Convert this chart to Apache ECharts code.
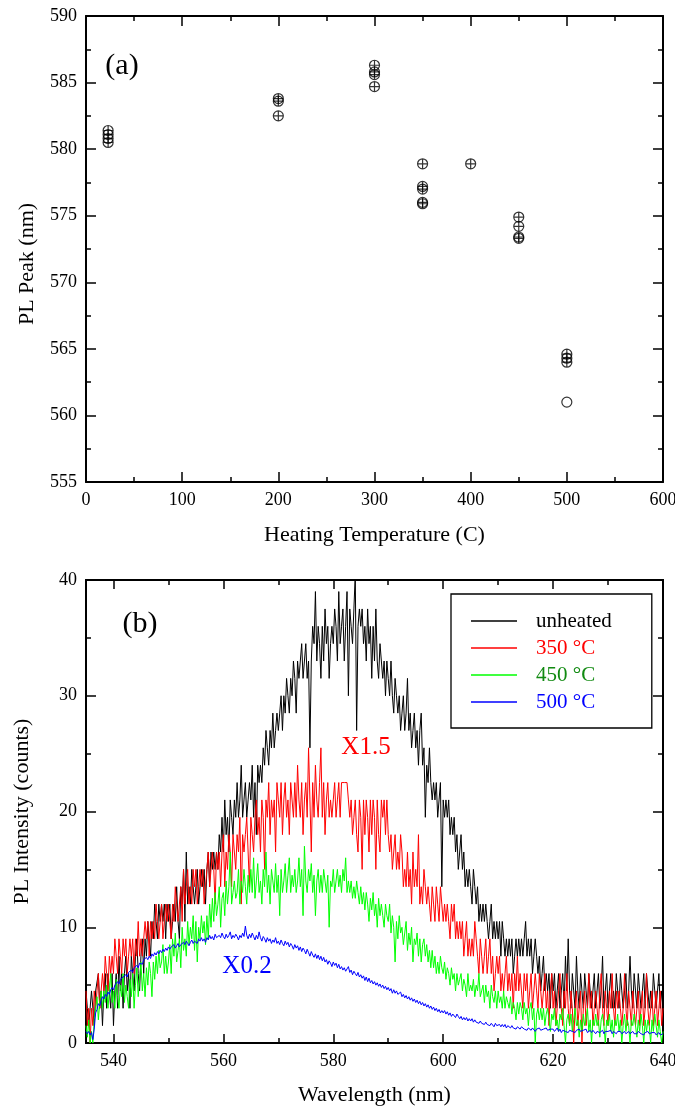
<!DOCTYPE html>
<html>
<head>
<meta charset="utf-8">
<title>PL peak / PL spectra</title>
<script src="https://cdn.jsdelivr.net/npm/echarts@6/dist/echarts.min.js"></script>
<style>
  html, body { margin: 0; padding: 0; background: #fff; }
  #main { width: 675px; height: 1108px; }
</style>
</head>
<body>
<div id="main"></div>
<script>
// ---- (a) PL peak position vs heating temperature ----
var heatTemp = [23, 23, 23, 23, 200, 200, 200, 300, 300, 300, 300,
                350, 350, 350, 350, 350, 400, 450, 450, 450, 450, 500, 500, 500];
var plPeak = [581.4, 581.1, 580.8, 580.5, 583.8, 583.6, 582.5, 586.3, 585.8, 585.6, 584.7,
              578.9, 577.2, 577.0, 576.0, 575.9, 578.9, 574.9, 574.2, 573.4, 573.3, 564.6, 564.3, 564.0];
// plain circle (no cross)
var heatTempOpen = [500];
var plPeakOpen = [561.0];

// ---- (b) PL spectra, sampled every 0.25 nm from 535 to 640 nm ----
var waveStart = 535, waveStep = 0.25;
var waveTicks = [540, 560, 580, 600, 620, 640];
var waveMinor = [550, 570, 590, 610, 630];

var unheated = [
  4.5,3,1.5,3, 4.5,3,1.5,4.5, 4.5,6,3,4.5, 1.5,4.5,6,3, 6,4.5,3,6,
  1.5,4.5,6,3, 7.5,4.5,6,3, 6,7.5,4.5,6, 3,7.5,6,4.5, 7.5,9,6,4.5,
  7.5,9,6,9, 7.5,10.5,9,7.5, 10.5,9,12,10.5, 9,12,10.5,12, 10.5,12,9,12,
  10.5,12,9,10.5, 12,10.5,13.5,10.5, 9,13.5,12,15, 10.5,16.5,12,13.5, 12,15,13.5,12,
  13.5,15,12,13.5, 15,13.5,15,12, 15,16.5,13.5,16.5, 15,16.5,15,16.5, 15,18,16.5,19.5,
  16.5,21,18,19.5, 16.5,21,19.5,18, 21,19.5,22.5,19.5, 21,24,19.5,21, 22.5,19.5,21,22.5,
  21,24,19.5,22.5, 18,24,22.5,24, 22.5,25.5,24,27, 25.5,24,27,25.5, 28.5,25.5,27,28.5,
  27,28.5,30,27, 30,28.5,31.5,30, 28.5,31.5,30,33, 31.5,28.5,33,31.5, 33,34.5,31.5,33,
  34.5,31.5,33,25.5, 33,36,34.5,39, 33,36,34.5,31.5, 36,33,37.5,34.5, 36,31.5,34.5,36,
  34.5,37.5,36,33, 39,34.5,36,37.5, 33,36,39,30, 37.5,36,34.5,37.5, 40.5,27,36,37.5,
  36,37.5,34.5,36, 33,37.5,34.5,36, 31.5,36,33,37.5, 33,31.5,34.5,33, 31.5,33,30,33,
  31.5,30,33,30, 28.5,31.5,30,28.5, 30,27,28.5,30, 27,28.5,31.5,27, 28.5,25.5,27,28.5,
  25.5,27,24,27, 28.5,24,25.5,19.5, 24,22.5,25.5,22.5, 21,22.5,21,22.5, 19.5,21,22.5,13.5,
  21,19.5,21,19.5, 21,18,19.5,18, 19.5,16.5,18,15, 16.5,18,15,16.5, 13.5,15,13.5,15,
  13.5,12,15,13.5, 12,13.5,10.5,12, 10.5,12,10.5,12, 10.5,9,10.5,12, 9,10.5,9,10.5,
  9,10.5,7.5,10.5, 9,7.5,9,7.5, 9,7.5,9,6, 7.5,9,7.5,9, 7.5,9,7.5,9,
  10.5,7.5,9,7.5, 9,6,7.5,9, 7.5,6,7.5,4.5, 6,7.5,4.5,6, 4.5,6,3,6,
  4.5,6,3,4.5, 6,3,4.5,6, 3,7.5,4.5,9, 4.5,3,6,4.5, 3,7.5,4.5,3,
  6,4.5,3,6, 4.5,3,6,4.5, 3,4.5,6,3, 4.5,6,3,4.5, 7.5,3,4.5,6,
  3,4.5,6,3, 4.5,3,6,4.5, 3,6,4.5,3, 4.5,6,3,4.5, 7.5,4.5,3,6,
  4.5,3,6,4.5, 3,4.5,6,3, 6,4.5,3,4.5, 3,6,4.5,3, 4.5,6,3,4.5,
  3
];

var heated350 = [
  4.5,1.5,3,0, 3,1.5,4.5,3, 4.5,6,3,4.5, 6,4.5,7.5,6, 4.5,7.5,6,7.5,
  6,9,7.5,6, 9,7.5,6,9, 7.5,9,6,7.5, 9,7.5,9,6, 9,7.5,10.5,7.5,
  9,7.5,9,10.5, 9,10.5,7.5,10.5, 9,10.5,9,12, 10.5,9,10.5,12, 9,10.5,12,10.5,
  12,10.5,9,12, 10.5,13.5,12,10.5, 12,13.5,10.5,15, 12,13.5,15,12, 13.5,12,15,13.5,
  15,12,13.5,15, 13.5,15,12,13.5, 15,16.5,13.5,15, 16.5,15,12,16.5, 15,16.5,13.5,16.5,
  18,13.5,16.5,15, 18,16.5,13.5,18, 16.5,15,18,16.5, 19.5,12,18,16.5, 18,19.5,16.5,13.5,
  19.5,18,16.5,19.5, 21,18,19.5,16.5, 21,19.5,15,21, 19.5,22.5,18,21, 19.5,21,16.5,22.5,
  21,19.5,22.5,18, 21,22.5,19.5,21, 18,22.5,21,19.5, 22.5,19.5,24,21, 19.5,22.5,18,21,
  22.5,19.5,25.5,21, 16.5,22.5,19.5,24, 21,19.5,22.5,25.5, 19.5,22.5,18,21, 22.5,19.5,21,19.5,
  21,22.5,19.5,21, 22.5,19.5,22.5,22.5, 22.5,22.5,22.5,21, 19.5,21,18,19.5, 21,18,16.5,21,
  19.5,15,21,18, 21,19.5,16.5,21, 18,21,19.5,15, 21,18,16.5,21, 19.5,21,18,21,
  18,16.5,18,15, 16.5,18,15,16.5, 15,18,16.5,13.5, 15,13.5,16.5,13.5, 15,12,16.5,13.5,
  15,13.5,18,12, 13.5,12,15,13.5, 12,13.5,12,10.5, 13.5,12,10.5,13.5, 12,10.5,13.5,12,
  10.5,12,10.5,12, 10.5,9,12,10.5, 12,9,10.5,9, 10.5,9,10.5,7.5, 9,10.5,7.5,9,
  7.5,9,7.5,10.5, 9,7.5,6,9, 7.5,6,7.5,9, 6,7.5,9,6, 7.5,4.5,6,7.5,
  6,7.5,4.5,6, 4.5,6,7.5,4.5, 6,4.5,6,3, 6,4.5,7.5,4.5, 6,4.5,3,6,
  4.5,6,3,4.5, 6,3,4.5,6, 4.5,3,6,4.5, 3,4.5,6,3, 4.5,1.5,4.5,6,
  3,4.5,1.5,3, 4.5,6,3,1.5, 4.5,3,6,3, 1.5,4.5,3,0, 3,4.5,1.5,3,
  4.5,0,3,4.5, 1.5,3,6,3, 4.5,1.5,3,4.5, 3,1.5,4.5,6, 3,1.5,4.5,3,
  1.5,4.5,3,6, 3,1.5,4.5,3, 4.5,3,1.5,3, 6,3,1.5,4.5, 3,1.5,4.5,3,
  1.5,3,4.5,1.5, 3,4.5,1.5,3, 6,3,1.5,3, 4.5,1.5,3,4.5, 1.5,3,4.5,1.5,
  3
];

var heated450 = [
  1.5,0.5,2,0, 1,0,2,3, 4,2,3.5,4.5, 3,4.5,3.5,5, 3,4.5,6,3.5,
  4.5,3,5.5,4, 3,5,4,6, 3.5,5,4,3, 5.5,4,6,3, 5,6.5,4,5.5,
  7,4.5,6,4, 6.5,5,7,6, 4,7,5.5,7.5, 6,8,6.5,7, 8.5,6,7.5,6,
  7,8.5,6,9, 7.5,9.5,7,8, 9,6.5,10,8, 9,7.5,10.5,8.5, 10,9,11,8,
  10.5,7,10,9, 11,9.5,10.5,8.5, 11,9,12,10, 12.5,10.5,13,11, 12,13.5,10,12.5,
  13,11,14,12, 13.5,16.5,12,13, 14,12.5,13,15, 12,14,13,15, 13.5,12,14.5,13,
  15,13,16,12.5, 14,15.5,13,14, 12,15,13.5,16.5, 13,14.5,12,15, 14,13,15.5,13,
  14.5,11,15,13, 14,15.5,13,14.5, 16,13,14.5,13.5, 15,13,14,16, 13.5,15,11,17,
  14,13,15,14, 15.5,13,14.5,11, 14,15,13,14.5, 13,15,14,13, 14.5,10,14,13.5,
  15,13,14,15, 13.5,14.5,13,15, 14,16,13,14, 13,14,12.5,13.5, 12.5,14,13,12,
  13.5,12,13,11.5, 13,12,10.5,12.5, 11.5,13,11,12, 10,12.5,11,12, 11,10,12,11,
  10.5,12,9.5,11, 10,7,10.5,9, 11,9.5,10,8.5, 9.5,10.5,8,9.5, 8.5,10,7,9,
  8.5,9.5,7.5,9, 7,8.5,9,7.5, 8.5,7,8,6.5, 8,6.5,7.5,6, 7,6,7.5,6.5,
  6,7,5.5,6.5, 6,5,6.5,5.5, 6,4.5,6,5, 5.5,6,4.5,5.5, 5,4,6,4.5,
  5,4.5,5.5,4, 5,4.5,6,4, 4.5,5,3.5,5, 4,4.5,3,5, 4,3.5,4.5,3,
  4.5,3.5,4,3, 4.5,3,4,3.5, 3,4,2.5,3.5, 3,2,3.5,2.5, 3.5,3,2,3.5,
  2.5,3,1.5,3, 3.5,2,3,0, 2.5,3,2,3, 2,3,1.5,2.5, 3,2,1,2.5,
  2,3,1.5,2, 1,2.5,2,3, 1.5,0,2,2.5, 1.5,2.5,1,2, 3,1.5,2,0.5,
  2,1,2.5,1.5, 2,3,1,2, 0,2,1.5,2.5, 1.5,2,0.5,2, 2.5,1.5,0,2,
  1.5,2.5,1,2, 0.5,2,1.5,2.5, 1,2,0,1.5, 2.5,1,2,1.5, 0,2,1.5,2.5,
  1.5,0.5,2,1, 2.5,1.5,0,2, 1,2,1.5,0, 2,1,2.5,1.5, 0.5,2,1,0,
  1
];

var heated500 = [
  1.0,0.8,1.0,0.7, 0.9,0.3,1.2,2.6, 2.9,3.4,3.2,3.7, 4.0,3.8,4.2,4.0, 4.4,4.2,4.6,4.8,
  4.6,5.0,4.9,5.3, 5.1,5.5,5.4,5.7, 5.6,5.9,5.7,6.1, 6.0,6.3,6.1,6.5, 6.4,6.7,6.5,6.9,
  7.0,6.8,7.2,7.1, 7.4,7.2,7.5,7.3, 7.7,7.5,7.8,7.6, 7.9,7.7,8.0,7.8, 8.1,7.9,8.2,8.0,
  8.3,8.1,8.3,8.2, 8.5,8.2,8.4,8.6, 8.3,8.5,8.4,8.7, 8.5,8.8,8.6,8.4, 8.7,8.9,8.6,8.8,
  8.9,8.6,9.0,8.8, 9.1,8.8,9.0,8.7, 9.1,8.9,9.3,9.0, 9.2,8.9,9.4,9.1, 9.0,9.3,9.1,9.5,
  9.2,9.0,9.4,9.1, 9.3,9.6,9.0,9.3, 9.1,9.4,9.2,8.9, 9.3,9.1,9.5,9.2, 10.1,9.3,9.0,9.4,
  9.1,9.5,9.2,8.9, 9.3,9.0,9.6,9.1, 8.8,9.2,9.0,8.7, 9.1,8.8,9.0,8.6, 8.9,8.7,9.1,8.6,
  8.8,8.5,8.9,8.6, 8.4,8.8,8.5,8.7, 8.3,8.6,8.4,8.1, 8.5,8.2,8.4,8.0, 8.3,7.9,8.2,8.0,
  7.7,8.1,7.8,7.5, 7.9,7.6,7.4,7.7, 7.3,7.6,7.2,7.5, 7.1,7.4,7.0,7.2, 6.8,7.1,6.9,6.6,
  7.0,6.7,6.9,6.5, 6.8,6.4,6.6,6.3, 6.5,6.2,6.4,6.6, 6.1,6.3,5.9,6.2, 6.0,5.8,6.1,5.7,
  5.9,5.6,5.8,5.4, 5.7,5.3,5.6,5.2, 5.4,5.1,5.3,5.0, 5.2,4.9,5.1,4.8, 5.0,4.7,4.9,4.6,
  4.8,4.5,4.7,4.3, 4.6,4.3,4.5,4.2, 4.1,4.4,4.0,4.2, 3.9,4.1,3.8,4.0, 3.7,3.9,3.6,3.8,
  3.5,3.7,3.4,3.6, 3.3,3.5,3.2,3.4, 3.1,3.3,3.0,3.2, 2.9,3.1,2.8,3.0, 2.7,2.9,2.6,2.8,
  2.6,2.8,2.5,2.7, 2.4,2.6,2.3,2.5, 2.4,2.2,2.5,2.3, 2.1,2.3,2.0,2.2, 2.0,2.2,1.9,2.1,
  1.9,2.1,1.8,2.0, 1.8,1.9,1.7,1.9, 1.7,1.8,1.6,1.8, 1.6,1.7,1.5,1.7, 1.6,1.4,1.7,1.5,
  1.5,1.6,1.4,1.6, 1.4,1.6,1.3,1.5, 1.4,1.3,1.5,1.3, 1.4,1.2,1.4,1.3, 1.2,1.4,1.3,1.2,
  1.3,1.1,1.3,1.2, 1.1,1.3,1.2,1.0, 1.2,1.1,1.3,1.1, 1.0,1.2,1.1,1.3, 1.1,1.0,1.2,1.1,
  1.2,1.0,1.1,1.3, 1.0,1.2,0.9,1.1, 1.2,1.0,1.1,0.9, 1.1,1.2,1.0,1.1, 0.9,1.1,1.0,1.2,
  1.0,0.9,1.1,1.0, 1.2,0.9,1.0,1.1, 0.9,1.1,1.0,0.8, 1.0,1.1,0.9,1.0, 1.1,0.8,1.0,0.9,
  1.0,0.9,1.1,0.8, 1.0,0.9,0.8,1.0, 0.9,1.0,0.8,0.9, 1.0,0.8,0.9,1.0, 0.8,0.9,1.0,0.8,
  0.9,0.8,1.0,0.9, 0.8,0.9,0.7,0.9, 0.8,1.0,0.8,0.7, 0.9,0.8,0.9,0.7, 0.8,0.9,0.7,0.8,
  0.8
];

var serif = 'Liberation Serif';
var crossCircle = 'path://M0,10 A10,10 0 1,1 20,10 A10,10 0 1,1 0,10 Z M0,10 L20,10 M10,0 L10,20';

function xy(xs, ys) {
  var out = [];
  for (var i = 0; i < xs.length; i++) out.push([xs[i], ys[i]]);
  return out;
}
function spectrum(vals) {
  var out = [];
  for (var i = 0; i < vals.length; i++) out.push([waveStart + i * waveStep, vals[i]]);
  return out;
}

var lineBlack = { color: '#000', width: 2 };
var tickStyle = { color: '#000', width: 1.5 };
var labelStyle = { fontFamily: serif, fontSize: 18, color: '#000' };
var nameStyle = { fontFamily: serif, fontSize: 22, color: '#000' };

// frame axis for panel (a)
function axisA(kind, pos, showLabel) {
  var a = {
    gridIndex: 0, type: 'value', position: pos,
    axisLine: { show: true, onZero: false, lineStyle: lineBlack },
    axisTick: { show: true, inside: true, length: 10, lineStyle: tickStyle },
    minorTick: { show: true, splitNumber: 2, length: 5, lineStyle: tickStyle },
    axisLabel: showLabel ? Object.assign({ margin: 9 }, labelStyle) : { show: false },
    splitLine: { show: false }
  };
  if (kind === 'x') { a.min = 0; a.max = 600; a.interval = 100; }
  else { a.min = 555; a.max = 590; a.interval = 5; }
  return a;
}

// x axis for panel (b): ticks given as custom values (range starts at 535)
function waveAxis(pos, ticks, len, showLabel) {
  return {
    gridIndex: 1, type: 'value', position: pos, min: 535, max: 640,
    axisLine: { show: true, onZero: false, lineStyle: lineBlack },
    axisTick: { show: true, inside: true, length: len, customValues: ticks, lineStyle: tickStyle },
    axisLabel: showLabel ? Object.assign({ margin: 9, customValues: waveTicks }, labelStyle) : { show: false },
    splitLine: { show: false }
  };
}
function countAxis(pos, showLabel) {
  return {
    gridIndex: 1, type: 'value', position: pos, min: 0, max: 40, interval: 10,
    axisLine: { show: true, onZero: false, lineStyle: lineBlack },
    axisTick: { show: true, inside: true, length: 10, lineStyle: tickStyle },
    minorTick: { show: true, splitNumber: 2, length: 5, lineStyle: tickStyle },
    axisLabel: showLabel ? Object.assign({ margin: 9 }, labelStyle) : { show: false },
    splitLine: { show: false }
  };
}

var xA = axisA('x', 'bottom', true);
xA.name = 'Heating Temperature (C)';
xA.nameLocation = 'middle';
xA.nameGap = 42;
xA.nameTextStyle = nameStyle;
var yA = axisA('y', 'left', true);
yA.name = 'PL Peak (nm)';
yA.nameLocation = 'middle';
yA.nameGap = 48;
yA.nameTextStyle = Object.assign({ padding: [0, 30, 0, 0] }, nameStyle);

var xB = waveAxis('bottom', waveTicks, 9, true);
xB.name = 'Wavelength (nm)';
xB.nameLocation = 'middle';
xB.nameGap = 41;
xB.nameTextStyle = nameStyle;
var yB = countAxis('left', true);
yB.name = 'PL Intensity (counts)';
yB.nameLocation = 'middle';
yB.nameGap = 53;
yB.nameTextStyle = nameStyle;

var chart = echarts.init(document.getElementById('main'), null, { renderer: 'canvas' });
chart.setOption({
  animation: false,
  backgroundColor: '#fff',
  grid: [
    { left: 86, right: 12, top: 16, height: 466, outerBoundsMode: 'none' },
    { left: 86, right: 12, top: 580, height: 463, outerBoundsMode: 'none' }
  ],
  xAxis: [
    xA,
    axisA('x', 'top', false),
    xB,
    waveAxis('bottom', waveMinor, 5, false),
    waveAxis('top', waveTicks, 9, false),
    waveAxis('top', waveMinor, 5, false)
  ],
  yAxis: [
    yA,
    axisA('y', 'right', false),
    yB,
    countAxis('right', false)
  ],
  legend: {
    orient: 'vertical',
    left: 451,
    top: 594,
    padding: [16, 40, 15, 20],
    icon: 'rect',
    itemWidth: 46,
    itemHeight: 1.3,
    itemGap: 5,
    borderColor: '#000',
    borderWidth: 1.3,
    textStyle: { fontFamily: serif, fontSize: 21, lineHeight: 22, padding: [0, 0, 0, 14] },
    data: [
      { name: 'unheated', textStyle: { color: '#000' } },
      { name: '350 °C', textStyle: { color: '#ff0000' } },
      { name: '450 °C', textStyle: { color: '#118a11' } },
      { name: '500 °C', textStyle: { color: '#0000ff' } }
    ]
  },
  graphic: [
    { type: 'text', x: 122, y: 66, style: { text: '(a)', fill: '#000', font: '30px "Liberation Serif"', align: 'center', verticalAlign: 'middle' } },
    { type: 'text', x: 140, y: 624, style: { text: '(b)', fill: '#000', font: '30px "Liberation Serif"', align: 'center', verticalAlign: 'middle' } },
    { type: 'text', x: 366, y: 747, style: { text: 'X1.5', fill: '#ff0000', font: '25px "Liberation Serif"', align: 'center', verticalAlign: 'middle' } },
    { type: 'text', x: 247, y: 966, style: { text: 'X0.2', fill: '#0000ff', font: '25px "Liberation Serif"', align: 'center', verticalAlign: 'middle' } }
  ],
  series: [
    {
      type: 'scatter', xAxisIndex: 0, yAxisIndex: 0,
      symbol: crossCircle, symbolSize: 10,
      itemStyle: { color: 'rgba(0,0,0,0)', borderColor: '#000', borderWidth: 1.2 },
      data: xy(heatTemp, plPeak)
    },
    {
      type: 'scatter', xAxisIndex: 0, yAxisIndex: 0,
      symbol: 'circle', symbolSize: 10,
      itemStyle: { color: 'rgba(0,0,0,0)', borderColor: '#000', borderWidth: 1.2 },
      data: xy(heatTempOpen, plPeakOpen)
    },
    {
      name: 'unheated', type: 'line', xAxisIndex: 2, yAxisIndex: 2,
      symbol: 'none', color: '#000', lineStyle: { color: '#000', width: 1 },
      data: spectrum(unheated)
    },
    {
      name: '350 °C', type: 'line', xAxisIndex: 2, yAxisIndex: 2,
      symbol: 'none', color: '#ff0000', lineStyle: { color: '#ff0000', width: 1 },
      data: spectrum(heated350)
    },
    {
      name: '450 °C', type: 'line', xAxisIndex: 2, yAxisIndex: 2,
      symbol: 'none', color: '#00ff00', lineStyle: { color: '#00ff00', width: 1 },
      data: spectrum(heated450)
    },
    {
      name: '500 °C', type: 'line', xAxisIndex: 2, yAxisIndex: 2,
      symbol: 'none', color: '#0000ff', lineStyle: { color: '#0000ff', width: 1 },
      data: spectrum(heated500)
    }
  ]
});
</script>
</body>
</html>
